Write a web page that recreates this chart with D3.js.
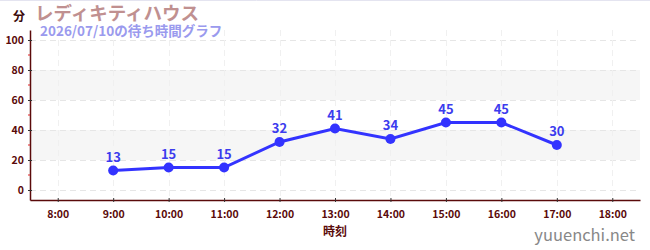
<!DOCTYPE html>
<html>
<head>
<meta charset="utf-8">
<script src="https://cdn.jsdelivr.net/npm/d3@7"></script>
<style>
  body { margin: 0; background: #fff; }
  text { font-family: "Noto Sans CJK JP", "Noto Sans", sans-serif; }
</style>
</head>
<body>
<div id="chart"></div>
<script>
// data
var hours = [9, 10, 11, 12, 13, 14, 15, 16, 17];
var waits = [13, 15, 15, 32, 41, 34, 45, 45, 30];
var xTicks = [8, 9, 10, 11, 12, 13, 14, 15, 16, 17, 18];
var yTicks = [0, 20, 40, 60, 80, 100];
var yMinor = [10, 30, 50, 70, 90];
var bands = [[20, 40], [60, 80]];

var svgWidth = 650, svgHeight = 250;
var plotLeft = 30, plotRight = 640, plotTop = 30, plotBottom = 200;

var svg = d3.select("#chart").append("svg")
  .attr("width", svgWidth)
  .attr("height", svgHeight);

var x = d3.scaleLinear().domain([7.5, 18.5]).range([plotLeft, plotRight]);
var y = d3.scaleLinear().domain([-20 / 3, 100 + 20 / 3]).range([plotBottom, plotTop]);

// top border
svg.append("line")
  .attr("x1", 0).attr("x2", svgWidth)
  .attr("y1", 0.5).attr("y2", 0.5)
  .attr("stroke", "#e4e4f0");

// bands
svg.selectAll("rect.band")
  .data(bands)
  .enter().append("rect")
  .attr("class", "band")
  .attr("x", plotLeft)
  .attr("width", plotRight - plotLeft)
  .attr("y", d => y(d[1]))
  .attr("height", d => y(d[0]) - y(d[1]))
  .attr("fill", "#f6f6f6");

// grid
svg.selectAll("line.hgrid")
  .data(yTicks)
  .enter().append("line")
  .attr("x1", plotLeft).attr("x2", plotRight)
  .attr("y1", d => Math.round(y(d)) + 0.5)
  .attr("y2", d => Math.round(y(d)) + 0.5)
  .attr("stroke", "#e6e6e6")
  .attr("stroke-dasharray", "6,4");

svg.selectAll("line.vgrid")
  .data(xTicks)
  .enter().append("line")
  .attr("x1", d => Math.round(x(d)) + 0.5)
  .attr("x2", d => Math.round(x(d)) + 0.5)
  .attr("y1", plotTop).attr("y2", plotBottom)
  .attr("stroke", "#f0f0f0")
  .attr("stroke-dasharray", "6,4");

// axes
var axisColor = "#5a0a0a";

var xAxis = svg.append("g")
  .attr("transform", `translate(0, ${plotBottom})`)
  .call(d3.axisBottom(x).tickValues(xTicks).tickFormat(d => d + ":00").tickSize(4).tickSizeOuter(0));
xAxis.select(".domain").attr("stroke", axisColor).attr("stroke-width", 1.5);
xAxis.selectAll(".tick line").attr("stroke", "#333").attr("transform", "translate(0,-2)");
xAxis.selectAll("text")
  .attr("fill", axisColor)
  .attr("font-size", 10.5)
  .attr("font-weight", "bold")
  .attr("dy", "1.05em");

var yAxis = svg.append("g")
  .attr("transform", `translate(${plotLeft}, 0)`)
  .call(d3.axisLeft(y).tickValues(yTicks).tickSize(4).tickSizeOuter(0));
yAxis.select(".domain").attr("stroke", axisColor).attr("stroke-width", 1.5);
yAxis.selectAll(".tick line").attr("stroke", "#333").attr("transform", "translate(2,0)");
yAxis.selectAll("text")
  .attr("fill", axisColor)
  .attr("font-size", 10.5)
  .attr("font-weight", "bold")
  .attr("x", -6);

svg.selectAll("line.minor")
  .data(yMinor)
  .enter().append("line")
  .attr("x1", plotLeft - 2).attr("x2", plotLeft)
  .attr("y1", d => y(d)).attr("y2", d => y(d))
  .attr("stroke", "#dd2222");

// line
var lineColor = "#3333ff";
svg.append("path")
  .datum(hours.map((h, i) => [h, waits[i]]))
  .attr("fill", "none")
  .attr("stroke", lineColor)
  .attr("stroke-width", 3)
  .attr("d", d3.line().x(d => x(d[0])).y(d => y(d[1])));

svg.selectAll("circle.pt")
  .data(hours)
  .enter().append("circle")
  .attr("cx", d => x(d))
  .attr("cy", (d, i) => y(waits[i]))
  .attr("r", 5)
  .attr("fill", lineColor);

svg.selectAll("text.val")
  .data(hours)
  .enter().append("text")
  .attr("x", d => x(d))
  .attr("y", (d, i) => y(waits[i]) - 9)
  .attr("text-anchor", "middle")
  .attr("font-size", 13)
  .attr("font-weight", "bold")
  .attr("fill", "#3c3cee")
  .text((d, i) => waits[i]);

// titles
svg.append("text")
  .attr("x", 13).attr("y", 21)
  .attr("font-size", 12).attr("font-weight", "bold")
  .attr("fill", "#3a0a0a")
  .text("分");

svg.append("text")
  .attr("x", 35).attr("y", 20)
  .attr("font-size", 18.5).attr("font-weight", "bold")
  .attr("fill", "#c09090")
  .text("レディキティハウス");

svg.append("text")
  .attr("x", 40).attr("y", 36)
  .attr("font-size", 13.5).attr("font-weight", "bold")
  .attr("fill", "#9a9aee")
  .text("2026/07/10の待ち時間グラフ");

svg.append("text")
  .attr("x", (plotLeft + plotRight) / 2).attr("y", 236)
  .attr("text-anchor", "middle")
  .attr("font-size", 12).attr("font-weight", "bold")
  .attr("fill", axisColor)
  .text("時刻");

svg.append("text")
  .attr("x", 635).attr("y", 241)
  .attr("text-anchor", "end")
  .attr("font-size", 16.5)
  .attr("fill", "#888")
  .text("yuuenchi.net");
</script>
</body>
</html>
